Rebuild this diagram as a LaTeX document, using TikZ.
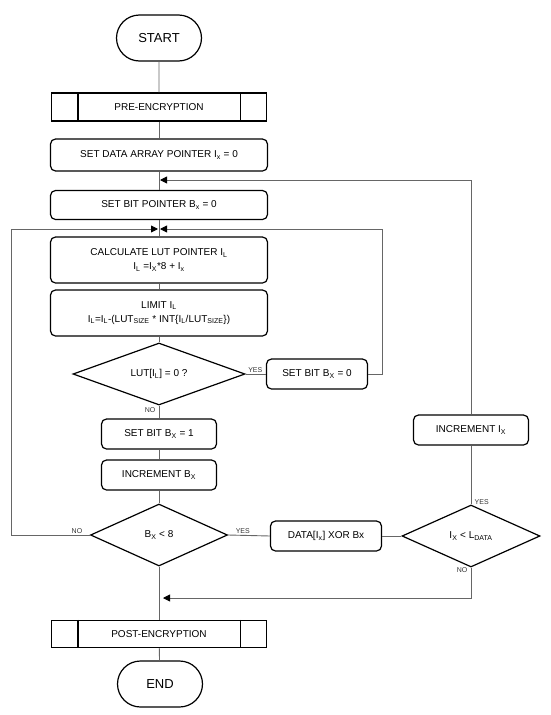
\documentclass[tikz,border=0pt]{standalone}
\usepackage{fontspec}
\setmainfont{Liberation Sans}
\usetikzlibrary{shapes.geometric,shapes.misc,arrows.meta}

\newcommand{\lo}[1]{\textsubscript{#1}}

\tikzset{
  frame/.style={draw=black, line width=1.2pt},
  base/.style={frame, align=center, inner sep=0pt, font=\fontsize{10}{14}\selectfont},
  term/.style={base, rounded rectangle, minimum width=85pt, minimum height=46pt, font=\fontsize{13}{15}\selectfont},
  proc/.style={base, rectangle, rounded corners=5pt, minimum height=30pt},
  predef/.style={base, rectangle, minimum width=215pt, minimum height=28pt},
  decide/.style={base, diamond, aspect=3, minimum width=172pt, minimum height=62pt},
  link/.style={draw=black!60, line width=0.9pt},
  into/.style={link, -{Triangle[length=7pt, width=7pt, color=black]}, shorten >=1pt},
  ans/.style={font=\fontsize{7}{8}\selectfont, text=black!80, inner sep=1.5pt}
}

\begin{document}
\begin{tikzpicture}[x=1pt, y=-1pt]
    \useasboundingbox (0,0) rectangle (550,715);

    % Main column
    \node[term] (start) at (159,38) {START};
    \node[predef] (pre) at (159,107) {PRE-ENCRYPTION};
    \node[proc, minimum width=217pt, minimum height=32pt] (setdata) at (159,155) {SET DATA ARRAY POINTER I\lo{x} = 0};
    \node[proc, minimum width=217pt, minimum height=29pt] (setbit) at (159,205) {SET BIT POINTER B\lo{x} = 0};
    \node[proc, minimum width=217pt, minimum height=46pt] (calc) at (159,260) {CALCULATE LUT POINTER I\lo{L}\\I\lo{L} =I\lo{X}*8 + I\lo{x}};
    \node[proc, minimum width=217pt, minimum height=46pt] (limit) at (159,313) {LIMIT I\lo{L}\\I\lo{L}=I\lo{L}-(LUT\lo{SIZE} * INT\{I\lo{L}/LUT\lo{SIZE}\})};
    \node[decide] (lut) at (159,374) {LUT[I\lo{L}] = 0 ?};
    \node[proc, minimum width=115pt] (set1) at (159,434) {SET BIT B\lo{X} = 1};
    \node[proc, minimum width=115pt] (incb) at (159,475) {INCREMENT B\lo{X}};
    \node[decide, minimum width=137pt] (bx) at (159,535) {B\lo{X} < 8};
    \node[predef, minimum height=27pt] (post) at (159,634) {POST-ENCRYPTION};
    \node[term] (end) at (160,684) {END};

    % Side boxes
    \node[proc, minimum width=101pt] (clr) at (317,374) {SET BIT B\lo{X} = 0};
    \node[proc, minimum width=111pt] (xor) at (326,536) {DATA[I\lo{x}] XOR Bx};
    \node[decide, minimum width=138pt] (ix) at (471,536) {I\lo{X} < L\lo{DATA}};
    \node[proc, minimum width=115pt] (incx) at (471,430) {INCREMENT I\lo{X}};

    % Predefined process bars
    \foreach \p in {pre,post} {
        \draw[frame] ([xshift=27pt]\p.north west) -- ([xshift=27pt]\p.south west);
        \draw[frame] ([xshift=-27pt]\p.north east) -- ([xshift=-27pt]\p.south east);
    }

    % Junctions
    \coordinate (j1) at (159,180);
    \coordinate (j2) at (159,229);
    \coordinate (j3) at (159,598);

    % Main flow
    \draw[link] (start) -- (pre);
    \draw[link] (pre) -- (setdata);
    \draw[link] (setdata) -- (setbit);
    \draw[link] (setbit) -- (calc);
    \draw[link] (calc) -- (limit);
    \draw[link] (limit) -- (lut);
    \draw[link] (lut) -- (set1);
    \draw[link] (set1) -- (incb);
    \draw[link] (incb) -- (bx);
    \draw[link] (bx) -- (post);
    \draw[link] (post) -- (end);

    % Branches
    \draw[link] (lut.east) -- (clr.west);
    \draw[link] (bx.east) -- (xor.west);
    \draw[link] (xor.east) -- (ix.west);
    \draw[link] (ix.north) -- (incx.south);

    % Loops back
    \draw[into] (clr.east) -- ++(14,0) |- (j2);
    \draw[into] (bx.west) -- ++(-78,0) |- (j2);
    \draw[into] (incx.north) |- (j1);
    \draw[into, shorten >=4pt] (ix.south) |- (j3);

    % Answers
    \node[ans, anchor=south west] at ([xshift=1pt]lut.east) {YES};
    \node[ans, anchor=north east] at ([xshift=-2pt]lut.south) {NO};
    \node[ans, anchor=south east] at ([xshift=-6pt]bx.west) {NO};
    \node[ans, anchor=south west] at ([xshift=6pt]bx.east) {YES};
    \node[ans, anchor=south west] at ([xshift=2pt, yshift=-2pt]ix.north) {YES};
    \node[ans, anchor=north east] at ([xshift=-2pt, yshift=2pt]ix.south) {NO};
\end{tikzpicture}
\end{document}
